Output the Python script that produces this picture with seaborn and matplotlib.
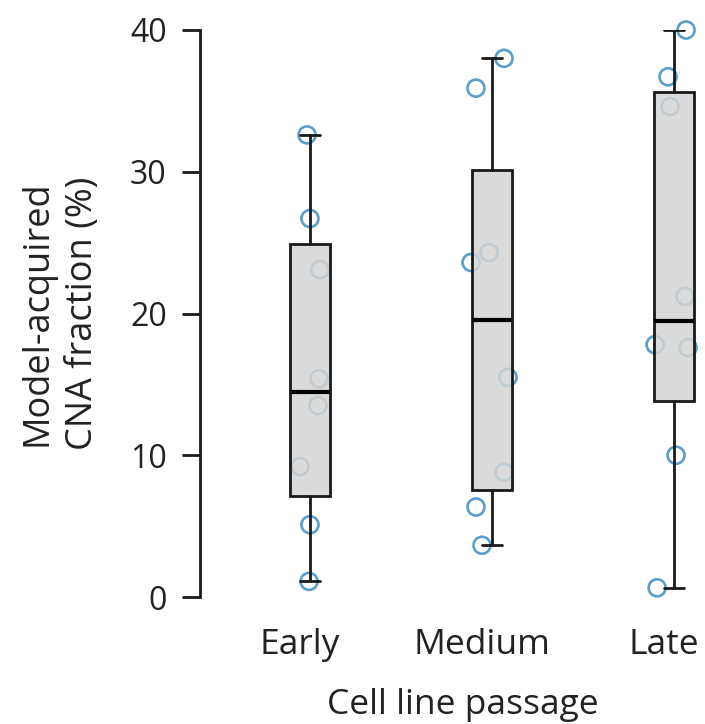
import numpy as np
import pandas as pd
import matplotlib
matplotlib.use("Agg")
import matplotlib.pyplot as plt
import matplotlib.transforms as mtransforms
import seaborn as sns

# data
passages = ["Early", "Medium", "Late"]
early = [32.6, 26.7, 23.1, 15.4, 13.5, 9.2, 5.1, 1.1]
medium = [38.0, 35.9, 24.3, 23.6, 15.5, 8.8, 6.35, 3.65]
late = [40.0, 36.7, 34.6, 21.2, 17.8, 17.6, 10.0, 0.65]

# horizontal jitter of each point (category units)
early_jitter = [-0.016, 0.0, 0.055, 0.05, 0.044, -0.055, 0.0, -0.005]
medium_jitter = [0.066, -0.088, -0.016, -0.115, 0.088, 0.066, -0.088, -0.055]
late_jitter = [0.066, -0.033, -0.022, 0.06, -0.104, 0.077, 0.011, -0.093]

yticks = [0, 10, 20, 30, 40]

groups = [early, medium, late]
jitters = [early_jitter, medium_jitter, late_jitter]

rows = []
for i, (name, vals, jit) in enumerate(zip(passages, groups, jitters)):
    for v, j in zip(vals, jit):
        rows.append({"passage": name, "value": v, "xpos": i + j})
df = pd.DataFrame(rows)


def fivenum(v):
    # Tukey hinges, like R's boxplot
    v = np.sort(np.asarray(v, float))
    n = len(v)
    n4 = np.floor((n + 3) / 2) / 2
    d = np.array([1, n4, (n + 1) / 2, n + 1 - n4, n]) - 1
    return 0.5 * (v[np.floor(d).astype(int)] + v[np.ceil(d).astype(int)])


stats = []
for vals in groups:
    mn, q1, med, q3, mx = fivenum(vals)
    iqr = q3 - q1
    arr = np.asarray(vals)
    lo = arr[arr >= q1 - 1.5 * iqr].min()
    hi = arr[arr <= q3 + 1.5 * iqr].max()
    stats.append(dict(med=med, q1=q1, q3=q3, whislo=lo, whishi=hi, fliers=[]))

sns.set_style("ticks")
plt.rcParams["font.family"] = ["Open Sans", "DejaVu Sans"]
text_col = "#222222"
line_col = "#1a1a1a"
lw = 2.0

fig = plt.figure(figsize=(7.05, 7.24), dpi=100)
ax = fig.add_axes([200 / 705, 127 / 724, 505 / 705, 567 / 724])

sns.scatterplot(data=df, x="xpos", y="value", ax=ax, marker="o", s=150,
                facecolor="none", edgecolor="#5b9ec9", linewidth=1.9,
                zorder=2, clip_on=False, legend=False)

ax.bxp(stats, positions=[0, 1, 2], widths=0.22, patch_artist=True,
       showfliers=False, manage_ticks=False, zorder=3,
       boxprops=dict(facecolor=(0.83, 0.83, 0.83, 0.85), edgecolor=line_col, linewidth=lw),
       medianprops=dict(color="black", linewidth=3, solid_capstyle="butt"),
       whiskerprops=dict(color=line_col, linewidth=lw),
       capprops=dict(color=line_col, linewidth=lw))

ax.set_xlim(-0.604, 2.17)
ax.set_ylim(0, 40)
ax.set_yticks(yticks)
ax.set_xticks(range(len(passages)))
ax.set_xticklabels(passages, fontsize=25.5, color=text_col)
ax.tick_params(axis="x", length=0, pad=22)
ax.tick_params(axis="y", length=13, width=lw, pad=11, labelsize=23,
               labelcolor=text_col, color=line_col)

# category labels sit a little left of the boxes in the original
shift = mtransforms.ScaledTranslation(-0.10, 0, fig.dpi_scale_trans)
for lab in ax.get_xticklabels():
    lab.set_transform(lab.get_transform() + shift)

for s in ["top", "right", "bottom"]:
    ax.spines[s].set_visible(False)
ax.spines["left"].set_linewidth(lw)
ax.spines["left"].set_color(line_col)
ax.spines["left"].set_bounds(0, 40)

ax.set_xlabel("Cell line passage", fontsize=25.5, color=text_col)
ax.xaxis.set_label_coords(0.52, -0.16)
ax.set_ylabel("Model-acquired\nCNA fraction (%)", fontsize=26, color=text_col,
              linespacing=1.35)
ax.yaxis.set_label_coords(-0.196, 0.5)

fig.savefig("out.png", dpi=100)
